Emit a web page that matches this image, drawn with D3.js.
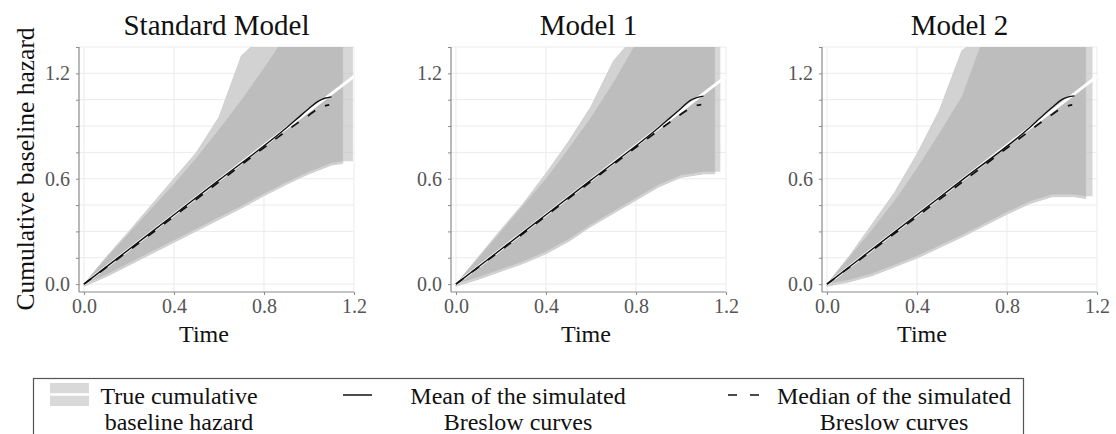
<!DOCTYPE html>
<html>
<head>
<meta charset="utf-8">
<script src="https://cdn.jsdelivr.net/npm/d3@7"></script>
<style>
  html, body { margin: 0; padding: 0; background: #fff; }
  svg { display: block; }
  text { font-family: "Liberation Serif", "Times New Roman", serif; }
</style>
</head>
<body>
<svg id="chart" width="1116" height="434"></svg>
<script>
// ---------- data ----------
const panelTitles = ["Standard Model", "Model 1", "Model 2"];
const xTicks = [0, 0.4, 0.8, 1.2];
const yTicks = [0, 0.15, 0.3, 0.45, 0.6, 0.75, 0.9, 1.05, 1.2, 1.35];
const yTickLabels = [0, 0.6, 1.2];

// envelope of the simulated Breslow curves (grey band)
const bandT = [0, 0.1, 0.2, 0.3, 0.4, 0.5, 0.6, 0.7, 0.8, 0.9, 1.0, 1.1, 1.15];
const upperMainSM  = [0, 0.15, 0.29, 0.43, 0.57, 0.72, 0.88, 1.05, 1.23, 1.42, 1.42, 1.42, 1.42];
const upperOuterSM = [0, 0.155, 0.30, 0.45, 0.60, 0.75, 0.95, 1.30, 1.42, 1.42, 1.42, 1.42, 1.42];
const lowerSM      = [0, 0.055, 0.12, 0.185, 0.25, 0.315, 0.38, 0.445, 0.515, 0.58, 0.64, 0.69, 0.70];
const upperMainM1  = [0, 0.15, 0.30, 0.45, 0.60, 0.77, 0.95, 1.15, 1.37, 1.42, 1.42, 1.42, 1.42];
const upperOuterM1 = [0, 0.155, 0.31, 0.46, 0.63, 0.81, 1.01, 1.27, 1.42, 1.42, 1.42, 1.42, 1.42];
const lowerM1      = [0, 0.04, 0.085, 0.13, 0.185, 0.255, 0.34, 0.415, 0.49, 0.565, 0.62, 0.64, 0.64];
const upperMainM2  = [0, 0.155, 0.31, 0.475, 0.66, 0.86, 1.07, 1.42, 1.42, 1.42, 1.42, 1.42, 1.42];
const upperOuterM2 = [0, 0.16, 0.34, 0.52, 0.74, 0.99, 1.33, 1.42, 1.42, 1.42, 1.42, 1.42, 1.42];
const lowerM2      = [0, 0.025, 0.06, 0.11, 0.16, 0.22, 0.28, 0.345, 0.41, 0.47, 0.51, 0.51, 0.50];
// right-hand tail of the band (last steps of the curves): [start time, end time, lowest level]
const tailSM = [1.15, 1.195, 0.70];
const tailM1 = [1.15, 1.175, 0.64];
const tailM2 = [1.15, 1.18, 0.50];

// true cumulative baseline hazard
const trueT = [0, 0.3, 0.6, 0.9, 1.2];
const trueH = [0, 0.296, 0.592, 0.888, 1.183];

// mean of the simulated Breslow curves
const meanT  = [0, 0.3, 0.6, 0.9, 0.95, 1.0, 1.04, 1.07, 1.1];
const meanSM = [0, 0.296, 0.592, 0.89, 0.945, 1.0, 1.04, 1.058, 1.066];
const meanM1 = [0, 0.296, 0.592, 0.89, 0.945, 1.0, 1.045, 1.062, 1.07];
const meanM2 = [0, 0.296, 0.592, 0.89, 0.948, 1.005, 1.048, 1.065, 1.072];

// median of the simulated Breslow curves
const medT  = [0, 0.3, 0.6, 0.9, 0.95, 1.0, 1.04, 1.07, 1.09];
const medSM = [0, 0.288, 0.582, 0.872, 0.918, 0.962, 0.998, 1.015, 1.02];
const medM1 = [0, 0.29, 0.585, 0.875, 0.922, 0.967, 1.0, 1.017, 1.022];
const medM2 = [0, 0.288, 0.58, 0.872, 0.92, 0.965, 1.0, 1.015, 1.02];

const legendLabels = [
  ["True cumulative", "baseline hazard"],
  ["Mean of the simulated", "Breslow curves"],
  ["Median of the simulated", "Breslow curves"]
];

// ---------- layout ----------
const panels = [
  {title: panelTitles[0], up: upperMainSM, upO: upperOuterSM, lo: lowerSM, tail: tailSM, mean: meanSM, med: medSM, x0: 84, timeX: 204},
  {title: panelTitles[1], up: upperMainM1, upO: upperOuterM1, lo: lowerM1, tail: tailM1, mean: meanM1, med: medM1, x0: 456, timeX: 586},
  {title: panelTitles[2], up: upperMainM2, upO: upperOuterM2, lo: lowerM2, tail: tailM2, mean: meanM2, med: medM2, x0: 827, timeX: 922}
];
const yTop = 47, yBot = 292;
const FONT = "Liberation Serif, Times New Roman, serif";
const svg = d3.select("#chart");
const axisCol = "#8a8a8a", tickTextCol = "#555", gridCol = "#ebebeb", bandCol = "#bdbdbd";

panels.forEach((p, i) => {
  const x = d3.scaleLinear().domain([-0.022, 1.2]).range([p.x0 - 5, p.x0 + 270]);
  const y = d3.scaleLinear().domain([-0.045, 1.35]).range([yBot, yTop]);
  const g = svg.append("g");
  const [xl, xr] = x.range();

  g.append("clipPath").attr("id", "clip" + i)
    .append("rect").attr("x", xl).attr("y", yTop).attr("width", xr - xl).attr("height", yBot - yTop);

  // grid
  g.append("g").selectAll("line").data(yTicks).join("line")
    .attr("x1", xl).attr("x2", xr).attr("y1", d => y(d)).attr("y2", d => y(d))
    .attr("stroke", gridCol).attr("stroke-width", 1);
  g.append("g").selectAll("line").data(xTicks).join("line")
    .attr("x1", d => x(d)).attr("x2", d => x(d)).attr("y1", yTop).attr("y2", yBot)
    .attr("stroke", gridCol).attr("stroke-width", 1);

  const plot = g.append("g").attr("clip-path", `url(#clip${i})`);

  const outer = bandT.map((t, k) => ({t, lo: p.lo[k] - 0.012, hi: p.upO[k]}));
  const main = bandT.map((t, k) => ({t, lo: p.lo[k], hi: p.up[k]}));
  const area = d3.area().x(d => x(d.t)).y0(d => y(d.lo)).y1(d => y(d.hi));

  plot.append("path").datum(outer).attr("d", area)
    .attr("fill", "#d2d2d2").attr("stroke", "#cfcfcf").attr("stroke-width", 1);
  plot.append("path").datum(main).attr("d", area).attr("fill", bandCol);

  // tail of the band
  const tail = [{t: p.tail[0], lo: p.tail[2], hi: 1.42}, {t: p.tail[1], lo: p.tail[2], hi: 1.42}];
  plot.append("path").datum(tail).attr("d", area)
    .attr("fill", bandCol).attr("fill-opacity", 0.6);

  const line = d3.line().x(d => x(d[0])).y(d => y(d[1]));
  // true
  plot.append("path").datum(trueT.map((t, k) => [t, trueH[k]])).attr("d", line)
    .attr("fill", "none").attr("stroke", "#ffffff").attr("stroke-width", 3);
  // mean
  plot.append("path").datum(meanT.map((t, k) => [t, p.mean[k]])).attr("d", line.curve(d3.curveMonotoneX))
    .attr("fill", "none").attr("stroke", "#111").attr("stroke-width", 1.4);
  // median
  plot.append("path").datum(medT.map((t, k) => [t, p.med[k]])).attr("d", line.curve(d3.curveMonotoneX))
    .attr("fill", "none").attr("stroke", "#111").attr("stroke-width", 1.8)
    .attr("stroke-dasharray", "9,11");

  // axes
  const yAxis = d3.axisLeft(y).tickValues(yTicks).tickSize(3).tickPadding(6)
    .tickFormat(d => yTickLabels.some(v => Math.abs(v - d) < 1e-9) ? d3.format(".1f")(d) : "");
  const ya = g.append("g").attr("transform", `translate(${xl},0)`).call(yAxis);
  const xAxis = d3.axisBottom(x).tickValues(xTicks).tickSize(3).tickPadding(4).tickFormat(d3.format(".1f"));
  const xa = g.append("g").attr("transform", `translate(0,${yBot})`).call(xAxis);
  ya.select(".domain").attr("d", `M0,${yBot}V${yTop}`);
  xa.select(".domain").attr("d", `M${xl},0H${xr}`);
  [ya, xa].forEach(a => {
    a.attr("font-family", FONT).attr("font-size", 20);
    a.select(".domain").attr("stroke", axisCol).attr("stroke-width", 1.2);
    a.selectAll(".tick line").attr("stroke", axisCol);
    a.selectAll(".tick text").attr("fill", tickTextCol)
      .attr("font-family", FONT).attr("font-size", 20);
  });

  // title
  g.append("text").attr("x", (xl + xr) / 2).attr("y", 35).attr("text-anchor", "middle")
    .attr("font-family", FONT).attr("font-size", 29).attr("fill", "#111").text(p.title);
  // x title
  g.append("text").attr("x", p.timeX).attr("y", 342).attr("text-anchor", "middle")
    .attr("font-family", FONT).attr("font-size", 24).attr("fill", "#111").text("Time");
});

// y-axis title
svg.append("text").attr("transform", "translate(34,169) rotate(-90)").attr("text-anchor", "middle")
  .attr("font-family", FONT).attr("font-size", 25.5).attr("fill", "#111").text("Cumulative baseline hazard");

// ---------- legend ----------
const lg = svg.append("g");
lg.append("rect").attr("x", 33.5).attr("y", 378.5).attr("width", 990).attr("height", 80)
  .attr("fill", "#fff").attr("stroke", "#555").attr("stroke-width", 1.2);
lg.append("rect").attr("x", 50).attr("y", 383).attr("width", 39).attr("height", 23).attr("fill", "#d9d9d9");
lg.append("line").attr("x1", 50).attr("x2", 89).attr("y1", 394.5).attr("y2", 394.5)
  .attr("stroke", "#fff").attr("stroke-width", 2.5);
lg.append("line").attr("x1", 343).attr("x2", 372).attr("y1", 395).attr("y2", 395)
  .attr("stroke", "#111").attr("stroke-width", 1.5);
lg.append("line").attr("x1", 728).attr("x2", 759).attr("y1", 395).attr("y2", 395)
  .attr("stroke", "#111").attr("stroke-width", 1.5).attr("stroke-dasharray", "9,13");
const legCenters = [179, 518, 894];
legendLabels.forEach((lines, i) => {
  lines.forEach((s, j) => {
    lg.append("text").attr("x", legCenters[i]).attr("y", 404 + j * 26).attr("text-anchor", "middle")
      .attr("font-family", FONT).attr("font-size", 24).attr("fill", "#111").text(s);
  });
});
</script>
</body>
</html>
